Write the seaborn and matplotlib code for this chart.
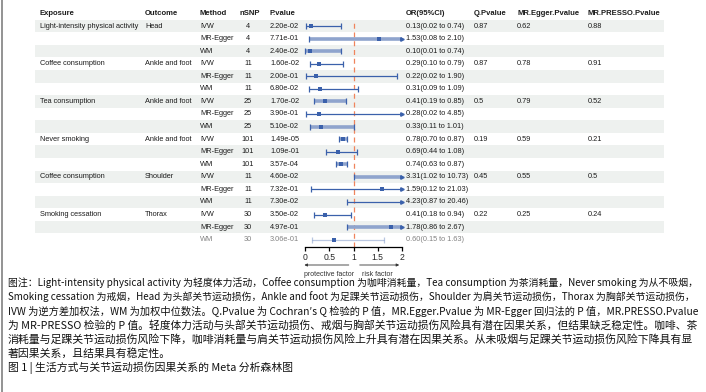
import numpy as np
import pandas as pd
import seaborn as sns
import matplotlib.pyplot as plt
from matplotlib.lines import Line2D

# table data
exposures = ["Light-intensity physical activity", "Coffee consumption", "Tea consumption",
             "Never smoking", "Coffee consumption", "Smoking cessation"]
outcomes = ["Head", "Ankle and foot", "Ankle and foot", "Ankle and foot", "Shoulder", "Thorax"]
methods = ["IVW", "MR-Egger", "WM"]
nsnp = [4, 4, 4, 11, 11, 11, 25, 25, 25, 101, 101, 101, 11, 11, 11, 30, 30, 30]
p_values = ["2.20e-02", "7.71e-01", "2.40e-02", "1.60e-02", "2.00e-01", "6.80e-02",
            "1.70e-02", "3.90e-01", "5.10e-02", "1.49e-05", "1.09e-01", "3.57e-04",
            "4.60e-02", "7.32e-01", "7.30e-02", "3.50e-02", "4.97e-01", "3.06e-01"]
or_est = [0.13, 1.53, 0.10, 0.29, 0.22, 0.31, 0.41, 0.28, 0.33,
          0.78, 0.69, 0.74, 3.31, 1.59, 4.23, 0.41, 1.78, 0.60]
ci_low = [0.02, 0.08, 0.01, 0.10, 0.02, 0.09, 0.19, 0.02, 0.11,
          0.70, 0.44, 0.63, 1.02, 0.12, 0.87, 0.18, 0.86, 0.15]
ci_high = [0.74, 2.10, 0.74, 0.79, 1.90, 1.09, 0.85, 4.85, 1.01,
           0.87, 1.08, 0.87, 10.73, 21.03, 20.46, 0.94, 2.67, 1.63]
q_pvalue = ["0.87", "0.87", "0.5", "0.19", "0.45", "0.22"]
egger_pvalue = ["0.62", "0.78", "0.79", "0.59", "0.55", "0.25"]
presso_pvalue = ["0.88", "0.91", "0.52", "0.21", "0.5", "0.24"]

# line look per row in the original (thick light bar or thin dark line)
thick_rows = [1, 2, 6, 8, 9, 11, 12, 16]

caption = [
    "图注：Light-intensity physical activity 为轻度体力活动，Coffee consumption 为咖啡消耗量，Tea consumption 为茶消耗量，Never smoking 为从不吸烟，",
    "Smoking cessation 为戒烟，Head 为头部关节运动损伤，Ankle and foot 为足踝关节运动损伤，Shoulder 为肩关节运动损伤，Thorax 为胸部关节运动损伤，",
    "IVW 为逆方差加权法，WM 为加权中位数法。Q.Pvalue 为 Cochran′s Q 检验的 P 值，MR.Egger.Pvalue 为 MR-Egger 回归法的 P 值，MR.PRESSO.Pvalue",
    "为 MR-PRESSO 检验的 P 值。轻度体力活动与头部关节运动损伤、戒烟与胸部关节运动损伤风险具有潜在因果关系，但结果缺乏稳定性。咖啡、茶",
    "消耗量与足踝关节运动损伤风险下降，咖啡消耗量与肩关节运动损伤风险上升具有潜在因果关系。从未吸烟与足踝关节运动损伤风险下降具有显",
    "著因果关系，且结果具有稳定性。",
    "图 1 | 生活方式与关节运动损伤因果关系的 Meta 分析森林图",
]

n = len(nsnp)
df = pd.DataFrame({
    "row": np.arange(n),
    "exposure": [exposures[i // 3] if i % 3 == 0 else "" for i in range(n)],
    "outcome": [outcomes[i // 3] if i % 3 == 0 else "" for i in range(n)],
    "method": [methods[i % 3] for i in range(n)],
    "nsnp": nsnp,
    "pval": p_values,
    "or": or_est,
    "lo": ci_low,
    "hi": ci_high,
    "q": [q_pvalue[i // 3] if i % 3 == 0 else "" for i in range(n)],
    "egger": [egger_pvalue[i // 3] if i % 3 == 0 else "" for i in range(n)],
    "presso": [presso_pvalue[i // 3] if i % 3 == 0 else "" for i in range(n)],
})
df["label"] = [f"{o:.2f}({l:.2f} to {h:.2f})" for o, l, h in zip(df["or"], df["lo"], df["hi"])]

sns.set_theme(style="white")
plt.rcParams['font.family'] = ['Liberation Sans', 'DejaVu Sans']

W, H = 706, 392
row0, pitch = 26, 12.57
top_px = row0 - 0.5 * pitch
bot_px = 247
ybot = (bot_px - row0) / pitch

fig = plt.figure(figsize=(W / 100, H / 100), dpi=100)

# table axes (x in pixels, y in rows)
tab = fig.add_axes([0, 1 - bot_px / H, 1, (bot_px - top_px) / H])
tab.set_xlim(0, W)
tab.set_ylim(ybot, -0.5)
tab.axis("off")

for r in range(0, n, 2):
    tab.axhspan(r - 0.5, r + 0.5, xmin=35 / W, xmax=664 / W, color="#eef1ef", lw=0)

fs = 5.3
tc = "#1c1c1c"
headers = [("Exposure", 40, "left"), ("Outcome", 145, "left"), ("Method", 200, "left"),
           ("nSNP", 240, "left"), ("P.value", 270, "left"), ("OR(95%CI)", 406, "left"),
           ("Q.Pvalue", 474, "left"), ("MR.Egger.Pvalue", 517, "left"),
           ("MR.PRESSO.Pvalue", 588, "left")]
for txt, x, ha in headers:
    tab.text(x, -1, txt, ha=ha, va="center", fontsize=fs + 0.2, fontweight="bold", color=tc)

for _, d in df.iterrows():
    r = d["row"]
    alpha = 0.55 if r == n - 1 else 1
    cols = [(d["exposure"], 40, "left"), (d["outcome"], 145, "left"), (d["method"], 200, "left"),
            (str(d["nsnp"]), 248, "center"), (d["pval"], 270, "left"), (d["label"], 406, "left"),
            (d["q"], 474, "left"), (d["egger"], 517, "left"), (d["presso"], 588, "left")]
    for txt, x, ha in cols:
        tab.text(x, r, txt, ha=ha, va="center", fontsize=fs, color=tc, alpha=alpha)

# forest axes
ax = fig.add_axes([305 / W, 1 - bot_px / H, 97 / W, (bot_px - top_px) / H])
ax.patch.set_alpha(0)
ax.set_xlim(0, 2)
ax.set_ylim(ybot, -0.5)
ax.axvline(1, color="#f0845c", ls=(0, (4, 3)), lw=0.9, zorder=1)

dark, light = "#3b61ab", "#8fa4cd"
for _, d in df.iterrows():
    r = d["row"]
    x1 = min(d["hi"], 2)
    thick = r in thick_rows
    col = light if thick else dark
    lw = 2.6 if thick else 0.9
    alpha = 0.35 if r == n - 1 else 1
    ax.plot([d["lo"], x1], [r, r], color=col, lw=lw, solid_capstyle="butt",
            clip_on=False, zorder=2, alpha=alpha)
    ax.plot([d["lo"]], [r], marker="|", ms=4, mew=0.9, color=dark, clip_on=False, alpha=alpha)
    if d["hi"] > 2:
        ax.plot([2], [r], marker=">", ms=2.5, color=dark, clip_on=False, alpha=alpha)
    else:
        ax.plot([x1], [r], marker="|", ms=4, mew=0.9, color=dark, clip_on=False, alpha=alpha)

sns.scatterplot(data=df[df["or"] <= 2], x="or", y="row", marker="s", s=7, color=dark,
                edgecolor=dark, linewidth=0, legend=False, ax=ax, zorder=3)
ax.set_xlabel("")
ax.set_ylabel("")
ax.set_yticks([])
ax.set_xticks([0, 0.5, 1, 1.5, 2])
ax.set_xticklabels(["0", "0.5", "1", "1.5", "2"])
for s in ["top", "left", "right"]:
    ax.spines[s].set_visible(False)
ax.spines["bottom"].set_color("black")
ax.spines["bottom"].set_linewidth(0.9)
ax.tick_params(axis="x", direction="out", length=3, width=0.9, color="black",
               labelsize=6.2, pad=1.5, bottom=True)

arr_y = -(265 - bot_px) / (bot_px - top_px)
lab_y = -(274 - bot_px) / (bot_px - top_px)
ax.annotate("", xy=(-0.07, arr_y), xytext=(0.96, arr_y), xycoords=("data", "axes fraction"),
            arrowprops=dict(arrowstyle="-|>", color="#333333", lw=0.6, mutation_scale=4))
ax.annotate("", xy=(2.0, arr_y), xytext=(1.07, arr_y), xycoords=("data", "axes fraction"),
            arrowprops=dict(arrowstyle="-|>", color="#333333", lw=0.6, mutation_scale=4))
ax.annotate("protective factor", xy=(0.5, lab_y), xycoords=("data", "axes fraction"),
            ha="center", va="center", fontsize=5.0, color="#333333")
ax.annotate("risk factor", xy=(1.5, lab_y), xycoords=("data", "axes fraction"),
            ha="center", va="center", fontsize=5.0, color="#333333")

# caption: the first five lines are justified to the full width in the original
cap_y = [283, 297, 311, 325, 339, 353, 368]
renderer = fig.canvas.get_renderer()
for k, (line, y) in enumerate(zip(caption, cap_y)):
    t = fig.text(8 / W, 1 - y / H, line, ha="left", va="center", fontsize=7.8, color="#111111",
                 family=["Noto Sans CJK SC", "DejaVu Sans"])
    if k < 5:
        w = t.get_window_extent(renderer).width
        t.set_fontsize(7.8 * 690 / w)

fig.add_artist(Line2D([1.5 / W, 1.5 / W], [0, 1], color="#8a8a8a", lw=1.3))

fig.savefig("out.png", dpi=100)
